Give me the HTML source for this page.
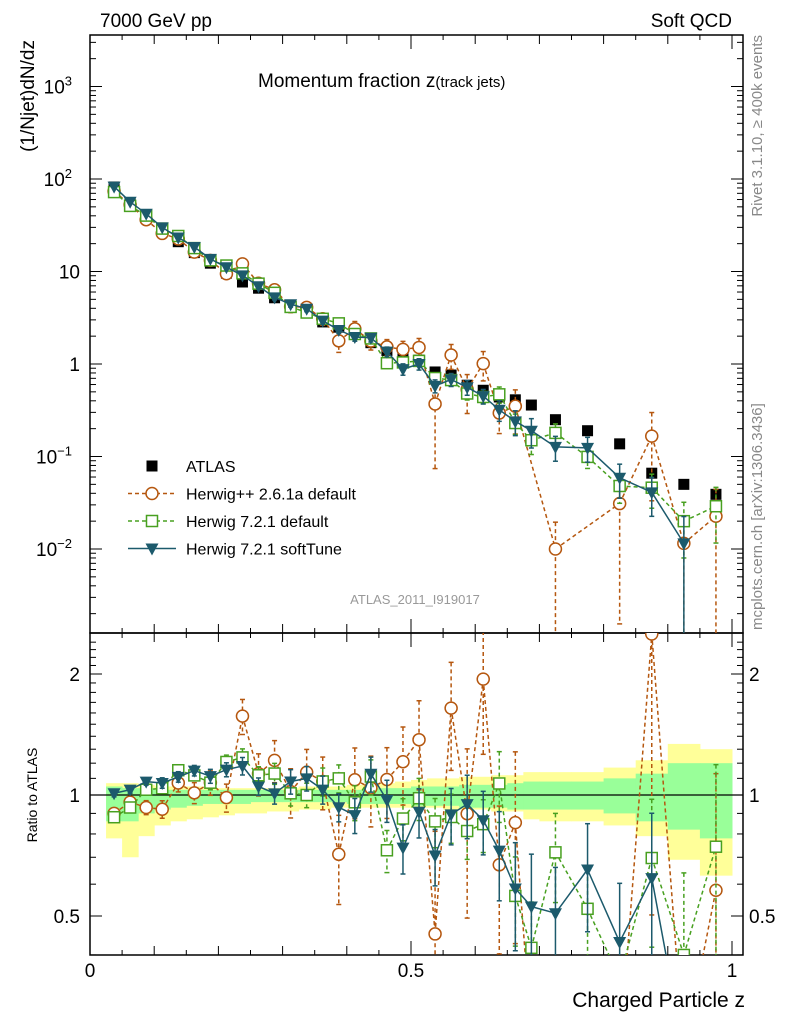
<!DOCTYPE html>
<html><head><meta charset="utf-8"><style>
html,body{margin:0;padding:0;background:#fff;overflow:hidden}
svg{display:block}
svg text{font-family:"Liberation Sans",sans-serif}
</style></head><body>
<svg id="c" width="786" height="1024" viewBox="0 0 786 1024" xmlns="http://www.w3.org/2000/svg">
<defs>
<clipPath id="cm"><rect x="90" y="35" width="653" height="598"/></clipPath>
<clipPath id="cr"><rect x="90" y="633" width="653" height="322"/></clipPath>
</defs>
<rect x="0" y="0" width="786" height="1024" fill="#fff"/>
<g id="bands" clip-path="url(#cr)"></g>
<g id="grid"></g>
<g id="mainMarks" clip-path="url(#cm)"></g>
<g id="ratioMarks" clip-path="url(#cr)"></g>
<text x="100" y="27" font-size="19">7000 GeV pp</text>
<text x="732" y="27" font-size="19" text-anchor="end">Soft QCD</text>
<text x="258" y="87" font-size="19">Momentum fraction z<tspan font-size="15">(track jets)</tspan></text>
<text transform="translate(34,40) rotate(-90)" font-size="19" text-anchor="end">(1/Njet)dN/dz</text>
<text transform="translate(762,35) rotate(-90)" font-size="15" fill="#888" text-anchor="end">Rivet 3.1.10, ≥ 400k events</text>
<text transform="translate(762,630) rotate(-90)" font-size="15" fill="#888">mcplots.cern.ch [arXiv:1306.3436]</text>
<text x="415" y="604" font-size="13" fill="#999" text-anchor="middle">ATLAS_2011_I919017</text>
<text transform="translate(37,795) rotate(-90)" font-size="14" text-anchor="middle">Ratio to ATLAS</text>
<text x="745" y="1007" font-size="21" text-anchor="end">Charged Particle z</text>
<g id="legend"></g>
</svg>
<script>
const zCenters=[0.0375,0.0625,0.0875,0.1125,0.1375,0.1625,0.1875,0.2125,0.2375,0.2625,0.2875,0.3125,0.3375,0.3625,0.3875,0.4125,0.4375,0.4625,0.4875,0.5125,0.5375,0.5625,0.5875,0.6125,0.6375,0.6625,0.6875,0.725,0.775,0.825,0.875,0.925,0.975];
const zEdgesLo=[0.025,0.05,0.075,0.1,0.125,0.15,0.175,0.2,0.225,0.25,0.275,0.3,0.325,0.35,0.375,0.4,0.425,0.45,0.475,0.5,0.525,0.55,0.575,0.6,0.625,0.65,0.675,0.7,0.75,0.8,0.85,0.9,0.95];
const zEdgesHi=[0.05,0.075,0.1,0.125,0.15,0.175,0.2,0.225,0.25,0.275,0.3,0.325,0.35,0.375,0.4,0.425,0.45,0.475,0.5,0.525,0.55,0.575,0.6,0.625,0.65,0.675,0.7,0.75,0.8,0.85,0.9,0.95,1.0];
const atlas=[82,55,39,28,21,16,12.3,9.6,7.7,6.6,5.2,4.1,3.6,2.85,2.5,2.2,1.7,1.4,1.19,1.1,0.82,0.76,0.59,0.52,0.44,0.41,0.36,0.25,0.19,0.137,0.066,0.050,0.039];
const herwigPP=[73.8,52.8,36.3,25.8,22.5,16.2,13.2,9.46,12.1,7.46,6.34,4.18,4.10,3.08,1.78,2.40,1.77,1.53,1.44,1.51,0.37,1.25,0.53,1.01,0.295,0.35,null,0.010,null,0.031,0.166,0.0115,0.0226];
const herwigPPErr=[0.03,0.03,0.04,0.05,0.05,0.06,0.07,0.08,0.1,0.12,0.12,0.14,0.14,0.15,0.25,0.2,0.2,0.2,0.22,0.25,0.8,0.3,0.45,0.35,0.4,0.5,0,0.95,0,0.95,0.8,0.95,0.95];
const herwig721=[72.2,51.2,40.2,29.1,24.2,17.9,13.2,11.6,9.55,7.39,5.88,4.14,3.6,3.08,2.75,2.11,1.89,1.02,1.04,1.08,0.705,0.67,0.48,0.44,0.47,0.23,0.15,0.18,0.099,0.048,0.046,0.020,0.029];
const herwig721Err=[0.02,0.02,0.02,0.03,0.03,0.03,0.04,0.04,0.05,0.05,0.06,0.07,0.07,0.08,0.08,0.1,0.1,0.12,0.12,0.12,0.14,0.14,0.15,0.15,0.2,0.25,0.3,0.25,0.25,0.35,0.4,0.6,0.6];
const softTune=[82.8,56.7,42.1,30.0,23.3,18.4,13.7,11.1,9.09,6.93,5.25,4.43,3.96,2.94,2.33,1.96,1.92,1.36,0.88,1.0,0.58,0.68,0.56,0.45,0.32,0.24,0.19,0.127,0.124,0.059,0.041,0.0115,null];
const softTuneErr=[0.02,0.02,0.02,0.03,0.03,0.03,0.04,0.04,0.05,0.05,0.06,0.07,0.07,0.08,0.08,0.1,0.1,0.12,0.14,0.14,0.16,0.16,0.18,0.18,0.25,0.3,0.35,0.3,0.3,0.4,0.45,0.95,0];
const yelHi=[1.07,1.07,1.06,1.05,1.05,1.05,1.04,1.04,1.04,1.04,1.04,1.04,1.05,1.05,1.05,1.06,1.06,1.07,1.08,1.09,1.10,1.10,1.11,1.11,1.12,1.12,1.14,1.14,1.14,1.17,1.22,1.34,1.30];
const yelLo=[0.78,0.70,0.79,0.84,0.86,0.87,0.88,0.89,0.90,0.90,0.91,0.91,0.92,0.92,0.93,0.93,0.93,0.93,0.93,0.93,0.93,0.92,0.92,0.92,0.91,0.91,0.87,0.86,0.86,0.84,0.79,0.69,0.63];
const grnHi=[1.05,1.04,1.04,1.03,1.03,1.03,1.03,1.03,1.03,1.03,1.03,1.03,1.03,1.03,1.03,1.03,1.04,1.04,1.04,1.05,1.05,1.05,1.06,1.06,1.06,1.07,1.08,1.08,1.08,1.10,1.13,1.20,1.20];
const grnLo=[0.86,0.86,0.90,0.92,0.93,0.94,0.95,0.95,0.95,0.96,0.96,0.96,0.96,0.96,0.96,0.95,0.95,0.95,0.95,0.94,0.94,0.94,0.93,0.93,0.93,0.92,0.92,0.92,0.92,0.90,0.86,0.82,0.78];
const yTickExp=[-2,-1,0,1,2,3];
const yTickLabels=["10","10","1","10","10","10"];
const yTickSup=["−2","−1","","","2","3"];
const rTicks=[0.5,1,2];
const rTickLabels=["0.5","1","2"];
const xTicks=[0,0.5,1];
const xTickLabels=["0","0.5","1"];

const NS="http://www.w3.org/2000/svg";
const X0=90,X1=743,MT=35,MB=633,RB=955;
const xs=z=>90+z*642;
const ym=v=>364-92.5*Math.log10(v);
const yr=r=>795-121*Math.log2(r);
function mk(tag,attrs,parent){const e=document.createElementNS(NS,tag);for(const k in attrs)e.setAttribute(k,attrs[k]);parent.appendChild(e);return e;}
const grid=document.getElementById('grid');
const bands=document.getElementById('bands');
const mm=document.getElementById('mainMarks');
const rm=document.getElementById('ratioMarks');

for(let i=0;i<zCenters.length;i++){
  let r=mk('rect',{x:xs(zEdgesLo[i]),y:yr(yelHi[i]),width:xs(zEdgesHi[i])-xs(zEdgesLo[i])+0.5,height:yr(yelLo[i])-yr(yelHi[i]),fill:'#ffff99'},bands);
  
  
}
for(let i=0;i<zCenters.length;i++){
  let r=mk('rect',{x:xs(zEdgesLo[i]),y:yr(grnHi[i]),width:xs(zEdgesHi[i])-xs(zEdgesLo[i])+0.5,height:yr(grnLo[i])-yr(grnHi[i]),fill:'#99ff99'},bands);
  
  
}

mk('rect',{x:X0,y:MT,width:X1-X0,height:MB-MT,fill:'none',stroke:'#000','stroke-width':1.5},grid);
mk('rect',{x:X0,y:MB,width:X1-X0,height:RB-MB,fill:'none',stroke:'#000','stroke-width':1.5},grid);
mk('line',{x1:X0,x2:X1,y1:yr(1),y2:yr(1),stroke:'#000','stroke-width':1.3},grid);

for(let e=-3;e<=3;e++){
  for(let m=1;m<10;m++){
    const v=m*Math.pow(10,e);const y=ym(v);
    if(y<MT||y>MB)continue;
    const L=m==1?12:6;
    mk('line',{x1:X0,x2:X0+L,y1:y,y2:y,stroke:'#000'},grid);
    mk('line',{x1:X1,x2:X1-L,y1:y,y2:y,stroke:'#000'},grid);
  }
}
yTickExp.forEach((e,i)=>{
  const y=ym(Math.pow(10,e));
  const t=mk('text',{x:yTickSup[i]?72:80,y:y+7,'font-size':19,'text-anchor':'end'},grid);
  t.textContent=yTickLabels[i];
  
  
  if(yTickSup[i]){const s=mk('tspan',{dy:-8,'font-size':13},t);s.textContent=yTickSup[i];}
});
for(let r=0.4;r<=2.5;r+=0.1){
  const rr=Math.round(r*10)/10;const y=yr(rr);
  if(y<MB||y>RB)continue;
  const L=(rr==0.5||rr==1||rr==2)?12:6;
  mk('line',{x1:X0,x2:X0+L,y1:y,y2:y,stroke:'#000'},grid);
  mk('line',{x1:X1,x2:X1-L,y1:y,y2:y,stroke:'#000'},grid);
}
rTicks.forEach((r,i)=>{
  const t=mk('text',{x:80,y:yr(r)+7,'font-size':19,'text-anchor':'end'},grid);
  t.textContent=rTickLabels[i];
  
  
  const t2=mk('text',{x:749,y:yr(r)+7,'font-size':19},grid);
  t2.textContent=rTickLabels[i];
  
  
});
for(let k=0;k<=20;k++){
  const z=k*0.05;const x=xs(z);
  const L=(k%10==0)?14:(k%2==0?9:5);
  [MT,MB].forEach(y0=>mk('line',{x1:x,x2:x,y1:y0,y2:y0+L,stroke:'#000'},grid));
  [MB,RB].forEach(y0=>mk('line',{x1:x,x2:x,y1:y0,y2:y0-L,stroke:'#000'},grid));
}
xTicks.forEach((z,i)=>{
  const t=mk('text',{x:xs(z),y:977,'font-size':19,'text-anchor':'middle'},grid);
  t.textContent=xTickLabels[i];
  
  
});

const series=[
 {name:'herwigpp-261a',vals:herwigPP,err:herwigPPErr,col:'#b5570f',dash:'4,3',m:'circle'},
 {name:'herwig-721-default',vals:herwig721,err:herwig721Err,col:'#48a020',dash:'4,3',m:'square'},
 {name:'herwig-721-softtune',vals:softTune,err:softTuneErr,col:'#1c5a6c',dash:'',m:'tri'}
];
function marker(m,x,y,col,g){
  let e;
  if(m=='circle')e=mk('circle',{cx:x,cy:y,r:6,fill:'#fff',stroke:col,'stroke-width':1.5},g);
  else if(m=='square')e=mk('rect',{x:x-5.5,y:y-5.5,width:11,height:11,fill:'#fff',stroke:col,'stroke-width':1.5},g);
  else if(m=='tri')e=mk('path',{d:`M${x-6.5},${y-5}L${x+6.5},${y-5}L${x},${y+7}Z`,fill:col},g);
  else e=mk('rect',{x:x-5.5,y:y-5.5,width:11,height:11,fill:'#000'},g);
  return e;
}
// clip a segment to y range [lo,hi]; returns null or [x1,y1,x2,y2]
function clipSeg(x1,y1,x2,y2,lo,hi){
  if((y1<lo&&y2<lo)||(y1>hi&&y2>hi))return null;
  const f=(yy)=>x1+(x2-x1)*(yy-y1)/(y2-y1);
  if(y1>hi){x1=f(hi);y1=hi;} else if(y1<lo){x1=f(lo);y1=lo;}
  if(y2>hi){x2=x1+(x2-x1)*(hi-y1)/(y2-y1);y2=hi;} else if(y2<lo){x2=x1+(x2-x1)*(lo-y1)/(y2-y1);y2=lo;}
  return [x1,y1,x2,y2];
}
function drawSeries(s,g,yf,ratio,yMin,yMax){
  const pts=[];
  s.vals.forEach((v,i)=>{if(v==null)return;const val=ratio?v/atlas[i]:v;pts.push([xs(zCenters[i]),yf(val),val,i]);});
  let d='';
  for(let k=0;k+1<pts.length;k++){
    const c=clipSeg(pts[k][0],pts[k][1],pts[k+1][0],pts[k+1][1],yMin,yMax);
    if(c)d+=`M${c[0].toFixed(1)},${c[1].toFixed(1)}L${c[2].toFixed(1)},${c[3].toFixed(1)}`;
  }
  const pl=mk('path',{d:d,fill:'none',stroke:s.col,'stroke-width':1.5,'stroke-dasharray':s.dash},g);
  
  
  pts.forEach(p=>{
    if(p[1]>yMax+10||p[1]<yMin-10)return;
    const e=s.err[p[3]];
    const hi=Math.max(yMin,yf(p[2]*(1+e))),lo=e>=1?yMax:Math.min(yMax,yf(p[2]*(1-e)));
    mk('line',{x1:p[0],x2:p[0],y1:hi,y2:lo,stroke:s.col,'stroke-width':1.5,'stroke-dasharray':s.dash},g);
    mk('line',{x1:p[0]-2.5,x2:p[0]+2.5,y1:hi,y2:hi,stroke:s.col,'stroke-width':1.5},g);
    mk('line',{x1:p[0]-2.5,x2:p[0]+2.5,y1:lo,y2:lo,stroke:s.col,'stroke-width':1.5},g);
    const mkr=marker(s.m,p[0],p[1],s.col,g);
    
    
  });
}
atlas.forEach((v,i)=>{
  const m=marker('black',xs(zCenters[i]),ym(v),'#000',mm);
  
  
});
series.forEach(s=>{drawSeries(s,mm,ym,false,MT,MB+2);drawSeries(s,rm,yr,true,MB-2,RB+2);});

const lg=document.getElementById('legend');
const lent=[['ATLAS',null],['Herwig++ 2.6.1a default',series[0]],['Herwig 7.2.1 default',series[1]],['Herwig 7.2.1 softTune',series[2]]];
lent.forEach((le,i)=>{
  const y=466+i*27.5;
  const g=mk('g',{},lg);
  
  
  if(le[1]){
    mk('line',{x1:128,x2:176,y1:y,y2:y,stroke:le[1].col,'stroke-width':1.5,'stroke-dasharray':le[1].dash},g);
    marker(le[1].m,152,y,le[1].col,g);
  } else marker('black',152,y,'#000',g);
  const t=mk('text',{x:186,y:y+6,'font-size':16},g);
  t.textContent=le[0];
});
</script>
</body></html>
